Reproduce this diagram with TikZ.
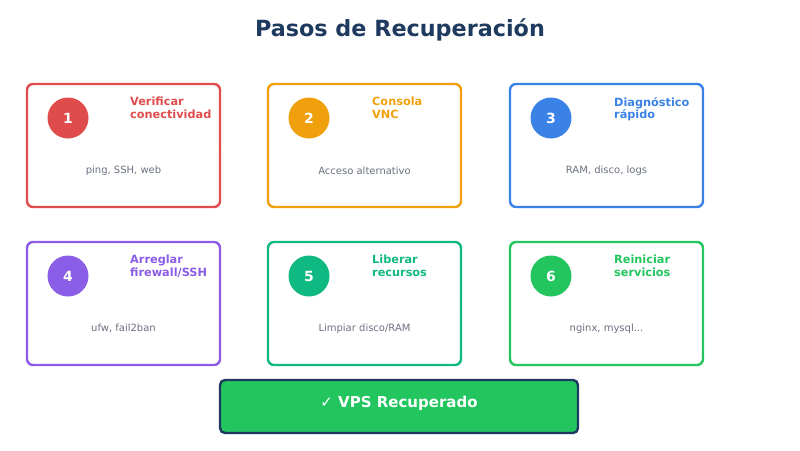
\documentclass[tikz,border=0pt]{standalone}
\usepackage{fontspec}
\setmainfont{DejaVu Sans}
\usepackage{tikz}
\usetikzlibrary{positioning}
\usetikzlibrary{arrows.meta}

\definecolor{navy}{HTML}{1E3A5F}
\definecolor{rojo}{HTML}{E04B4B}
\definecolor{naranja}{HTML}{F0A00C}
\definecolor{azul}{HTML}{3B82E6}
\definecolor{morado}{HTML}{8B5CE6}
\definecolor{teal}{HTML}{10B981}
\definecolor{verde}{HTML}{22C55E}
\definecolor{gris}{HTML}{6B7280}

\begin{document}
\begin{tikzpicture}[x=1pt, y=-1pt,
  pasobox/.style={draw=#1, line width=2.4pt, rounded corners=6pt, fill=white,
    minimum width=193pt, minimum height=123pt, inner sep=0pt},
  numcirc/.style={circle, fill=#1, minimum size=41pt, inner sep=0pt,
    text=white, font=\bfseries\fontsize{14}{16}\selectfont},
  pasotit/.style={anchor=north west, inner sep=0pt, align=left, text=#1,
    font=\bfseries\fontsize{11.3}{12.5}\selectfont},
  pasosub/.style={inner sep=0pt, text=gris, font=\fontsize{10}{12}\selectfont},
  flecha/.style={draw=white, line width=2pt, -{Stealth[length=5pt]}}]
  \useasboundingbox (0,0) rectangle (800,450);
  % titulo
  \node (titulo) at (400,29.5) {\textcolor{navy}{\bfseries\fontsize{22.3}{26}\selectfont Pasos de Recuperación}};
  % fila 1
  \node[pasobox=rojo] (b1) at (123.5,145.5) {};
  \node[pasobox=naranja] (b2) at (364.5,145.5) {};
  \node[pasobox=azul] (b3) at (606.5,145.5) {};
  \node[numcirc=rojo] (n1) at (68,118) {1};
  \node[numcirc=naranja] (n2) at (309,118) {2};
  \node[numcirc=azul] (n3) at (551,118) {3};
  \node[pasotit=rojo] (t1) at (130,97) {Verificar\\conectividad};
  \node[pasotit=naranja] (t2) at (372,97) {Consola\\VNC};
  \node[pasotit=azul] (t3) at (614,97) {Diagnóstico\\rápido};
  \node[pasosub] (s1) at (123.5,170.5) {ping, SSH, web};
  \node[pasosub] (s2) at (364.5,170.5) {Acceso alternativo};
  \node[pasosub] (s3) at (606.5,170.5) {RAM, disco, logs};
  % fila 2
  \node[pasobox=morado] (b4) at (123.5,303.5) {};
  \node[pasobox=teal] (b5) at (364.5,303.5) {};
  \node[pasobox=verde] (b6) at (606.5,303.5) {};
  \node[numcirc=morado] (n4) at (68,276) {4};
  \node[numcirc=teal] (n5) at (309,276) {5};
  \node[numcirc=verde] (n6) at (551,276) {6};
  \node[pasotit=morado] (t4) at (130,255) {Arreglar\\firewall/SSH};
  \node[pasotit=teal] (t5) at (372,255) {Liberar\\recursos};
  \node[pasotit=verde] (t6) at (614,255) {Reiniciar\\servicios};
  \node[pasosub] (s4) at (123.5,328.5) {ufw, fail2ban};
  \node[pasosub] (s5) at (364.5,328.5) {Limpiar disco/RAM};
  \node[pasosub] (s6) at (606.5,328.5) {nginx, mysql...};
  % flechas blancas
  \draw[flecha, shorten >=3pt] (b1.east) -- (b2.west);
  \draw[flecha, shorten >=3pt] (b2.east) -- (b3.west);
  \draw[flecha, shorten <=3pt] ([xshift=35pt]b3.south) -- ([xshift=35pt]b6.north);
  \draw[flecha, shorten >=3pt] (b4.east) -- (b5.west);
  \draw[flecha, shorten >=3pt] (b5.east) -- (b6.west);
  % resultado
  \node[draw=navy, fill=verde, line width=2.4pt, rounded corners=5pt,
    minimum width=358pt, minimum height=53pt] (fin) at (399,406.5) {};
  \node[text=white, font=\bfseries\fontsize{15}{18}\selectfont] (fintxt) at (399,403.5) {✓ VPS Recuperado};
\end{tikzpicture}
\end{document}
